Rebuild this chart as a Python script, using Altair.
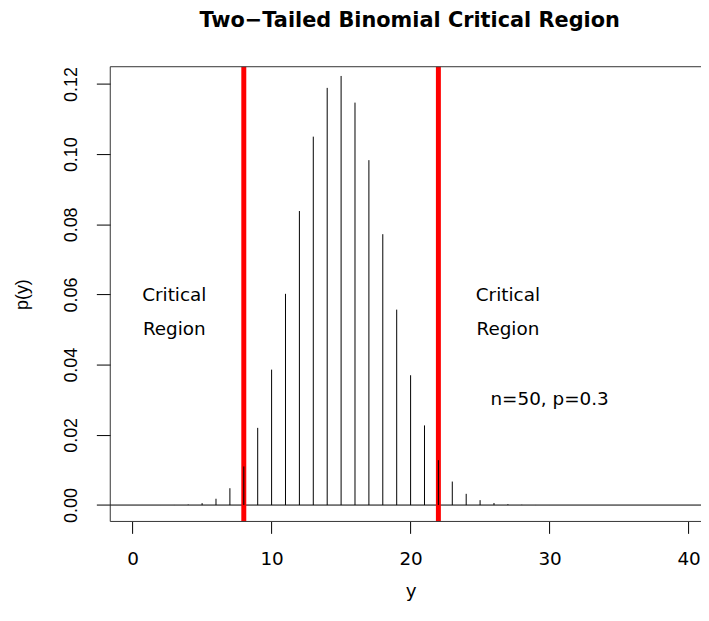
import altair as alt
import pandas as pd

# ---- data ----
y_vals = list(range(0, 41))
p_vals = [0.000000018, 0.00000038, 0.000004, 0.000028, 0.00014,
          0.00055, 0.0018, 0.0048, 0.0110, 0.0220,
          0.0386, 0.0602, 0.0838, 0.1050, 0.1189,
          0.1223, 0.1147, 0.0983, 0.0772, 0.0557,
          0.0370, 0.0227, 0.0128, 0.0067, 0.0032,
          0.0014, 0.00059, 0.00023, 0.00008, 0.000026,
          0.0000077, 0.0000021, 0.00000054, 0.00000013, 0.000000028,
          0.0000000056, 0.000000001, 0.0000000002, 0.0, 0.0, 0.0]
crit_x = [8, 22]
ann_x = [3, 3, 27, 27, 30]
ann_y = [0.06, 0.0505, 0.06, 0.0505, 0.0305]
ann_text = ["Critical", "Region", "Critical", "Region", "n=50, p=0.3"]
x_ticks = [0, 10, 20, 30, 40]
y_ticks = [0.0, 0.02, 0.04, 0.06, 0.08, 0.10, 0.12]

W, H = 595, 458
HFONT = "DejaVu Sans"
VFONT = "Liberation Sans"

df = pd.DataFrame({"y": y_vals, "p": p_vals, "zero": [0.0] * len(y_vals)})
crit_df = pd.DataFrame({"x": crit_x})
ann_df = pd.DataFrame({"x": ann_x, "p": ann_y, "label": ann_text})
zero_df = pd.DataFrame({"p": [0.0]})

x_scale = alt.Scale(domain=[-1.6071, 40.8929], nice=False, zero=False)
y_scale = alt.Scale(domain=[-0.00467, 0.12493], nice=False, zero=False)

x_axis = alt.Axis(values=x_ticks, title="y", tickSize=12, labelPadding=31,
                  labelFont=HFONT, labelFontSize=18.5, labelBaseline="alphabetic",
                  titleFont=HFONT, titleFontSize=18.5, titleFontWeight="normal",
                  titleX=302.5, titleY=76, titleBaseline="alphabetic", titleAlign="center")
y_axis = alt.Axis(values=y_ticks, format=".2f", title="p(y)", tickSize=14, labelPadding=19.5,
                  labelFont=VFONT, labelFontSize=18, labelAngle=270,
                  labelAlign="center", labelBaseline="alphabetic",
                  titleFont=VFONT, titleFontSize=18, titleFontWeight="normal",
                  titleAngle=270, titleX=-83, titleY=229, titleAlign="center",
                  titleBaseline="alphabetic")

zero_line = alt.Chart(zero_df).mark_rule(color="black", strokeWidth=1).encode(
    y=alt.Y("p:Q", scale=y_scale, axis=y_axis),
    x=alt.value(0), x2=alt.value(W))

red = alt.Chart(crit_df).mark_rule(color="#ff0000", strokeWidth=5).encode(
    x=alt.X("x:Q", scale=x_scale, axis=x_axis),
    y=alt.value(0), y2=alt.value(H))

spikes = alt.Chart(df).mark_rule(color="black", strokeWidth=1, clip=True).encode(
    x=alt.X("y:Q", scale=x_scale),
    y=alt.Y("p:Q", scale=y_scale),
    y2=alt.Y2("zero:Q"))

texts = alt.Chart(ann_df).mark_text(font=HFONT, fontSize=18.5, color="black",
                                    baseline="alphabetic", align="center", dy=7).encode(
    x=alt.X("x:Q", scale=x_scale),
    y=alt.Y("p:Q", scale=y_scale),
    text="label:N")

box_top = alt.Chart(zero_df).mark_rule(color="#333333", strokeWidth=1).encode(
    x=alt.value(0), x2=alt.value(W), y=alt.value(0))
box_bottom = alt.Chart(zero_df).mark_rule(color="#333333", strokeWidth=1).encode(
    x=alt.value(0), x2=alt.value(W), y=alt.value(H))
box_left = alt.Chart(zero_df).mark_rule(color="#333333", strokeWidth=1).encode(
    x=alt.value(0), y=alt.value(0), y2=alt.value(H))

chart = alt.layer(zero_line, red, spikes, texts, box_top, box_bottom, box_left).properties(
    width=W, height=H,
    title=alt.TitleParams("Two\u2212Tailed Binomial Critical Region", font=HFONT,
                          fontSize=21, fontWeight="bold", anchor="middle", frame="group",
                          baseline="alphabetic", offset=17, dx=4, color="black"),
    padding={"left": 103, "top": 57, "right": 0, "bottom": 81},
    autosize=alt.AutoSizeParams(type="none"),
    background="white",
).configure_view(stroke=None).configure_axis(
    grid=False, domain=False, tickColor="black", labelColor="black", titleColor="black")

chart.save("out.html", embed_options={"renderer": "svg", "actions": False})
